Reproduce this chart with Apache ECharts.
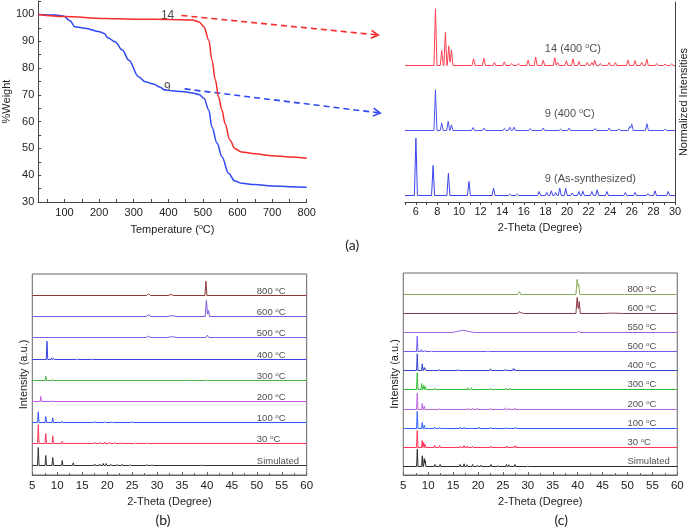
<!DOCTYPE html>
<html><head><meta charset="utf-8">
<script src="https://cdn.jsdelivr.net/npm/echarts@6/dist/echarts.min.js"></script>
<style>html,body{margin:0;padding:0;background:#fff}#c{width:690px;height:528px}</style>
</head><body><div id="c"></div>
<script>
// ================= DATA =================
// (a) TGA curves
const tgaTemp9   = [24, 74, 97, 116, 130, 159, 201, 215, 225, 246, 267, 286, 314, 333, 357, 376, 390, 410, 440, 470, 489, 503, 517, 526, 541, 555, 574, 592, 611, 650, 700, 750, 800];
const tgaWeight9 = [100, 99.8, 99.4, 97.6, 95.4, 94.8, 93.5, 92.9, 91.3, 89.8, 86.7, 82.9, 76.7, 74.9, 74.0, 72.8, 71.8, 71.5, 71.2, 70.7, 70.1, 68.7, 64.3, 58.0, 51.9, 46.9, 40.7, 37.8, 37.0, 36.5, 36.0, 35.7, 35.5];
const tgaTemp14   = [24, 100, 215, 309, 404, 470, 489, 503, 517, 526, 536, 545, 555, 564, 578, 592, 611, 650, 700, 750, 800];
const tgaWeight14 = [100, 99.2, 98.5, 98.2, 98.1, 97.9, 97.2, 95.4, 90.4, 83.0, 75.5, 69.3, 64.3, 59.3, 53.1, 50.0, 48.7, 48.0, 47.3, 46.8, 46.3];
const tgaTempLabels   = [100, 200, 300, 400, 500, 600, 700, 800];
const tgaWeightLabels = [30, 40, 50, 60, 70, 80, 90, 100];
const tgaCurveNames = ['9', '14'];

// (a) XRD patterns: [2-theta, relative intensity, (optional half base width)]
const xrdALabelTicks = [6, 8, 10, 12, 14, 16, 18, 20, 22, 24, 26, 28, 30];
const xrdANames = ['9 (As-synthesized)', '9 (400 °C)', '14 (400 °C)'];
const peaks9Synth = [[6.01,57.3],[7.6,30],[9.02,22.3],[10.92,14],[13.2,7.3],[14.7,1.5],[15.4,1.5],[17.42,4],[18.13,3],[18.55,4.7],[18.95,3],[19.33,7.3],[19.88,7],[20.49,2.5],[21.1,4],[21.47,4.3],[22.3,4],[22.79,5.7],[23.7,4],[25.4,3],[26.3,3],[27.5,2],[28.15,4.7],[29.37,4]];
const peaks9At400 = [[7.82,40.7],[8.4,7.3],[9.0,9.3],[9.3,5.7],[11.3,3],[12.3,2.5],[14.2,2],[14.7,3.3],[15.1,3.3],[16.6,2],[17.8,2.5],[19.4,1.5],[20.2,2.5],[22.6,2],[23.9,2.5],[24.8,1.5],[25.8,4],[26.0,6.3],[27.4,6.7],[29.1,1.5]];
const peaks14At400 = [[7.82,56.7],[8.40,15],[8.74,33],[9.05,19.7],[9.3,15.7],[11.35,6.7],[12.3,7.3],[13.28,3],[14.2,3.7],[14.87,2],[15.5,2],[16.4,5.3],[17.1,8.3],[17.8,5.3],[18.87,7.7],[19.14,3],[19.94,4.7],[20.55,6.7],[21.1,4],[21.87,3],[22.3,3],[22.57,5.3],[23.1,2],[23.9,3],[24.48,3],[25.64,5.3],[26.3,5],[26.93,3],[27.39,6.3],[28.3,2],[29.08,1.5],[29.69,1.5]];

// (b) variable-temperature XRD
const xrdBCTicks = [5, 10, 15, 20, 25, 30, 35, 40, 45, 50, 55, 60];
const bNames = ['Simulated', '30 °C', '100 °C', '200 °C', '300 °C', '400 °C', '500 °C', '600 °C', '800 °C'];
const bSim  = [[6.2,18],[7.7,10],[9.1,8],[11,5],[13.2,2.7],[17.5,1.5],[18.5,1.5],[19.2,2],[19.8,2],[20.7,1.3],[22,1],[23,1.2],[24.6,0.8],[28,1],[29,0.8],[39,0.6]];
const b30   = [[6.2,18.7],[7.7,10],[9.1,7.7],[11,2.3],[17.5,1.2],[18.5,1.3],[19.5,1.5],[20.5,1.3],[21.5,1.2],[23,1],[25.6,0.8],[28,0.8]];
const b100  = [[6.2,10.7],[7.7,6],[9.1,4.7],[11,1.3],[17.5,1],[19.5,0.8],[21,0.8],[25,1]];
const b200  = [[6.7,5],[9.1,0.6]];
const b300  = [[7.7,4.3],[9.1,1],[36,0.7],[39.9,0.7]];
const b400  = [[7.95,18.3],[8.9,1.7],[9.3,1],[14,0.6],[17,0.5]];
const b500  = [[28.3,1.3,0.5],[33,0.8,1],[40.1,2.3,0.3]];
const b600  = [[28.3,1.7,0.5],[33,0.8,1],[39.9,16,0.25],[40.3,6,0.25]];
const b800  = [[28.3,1.7,0.4],[32.8,1,0.6],[39.8,14.3,0.2]];

// (c) variable-temperature XRD
const cNames = ['Simulated', '30 °C', '100 °C', '200 °C', '300 °C', '400 °C', '500 °C', '550 °C', '600 °C', '800 °C'];
const cSim  = [[7.81,17.3],[8.81,10.7],[9.2,8],[9.4,6],[11.36,2],[12.4,2],[16.4,2],[17.2,2.7],[17.8,1.7],[18.9,2],[19.9,1.3],[20.6,1.3],[22.6,2],[24,1],[25.7,2],[26.2,1.7],[27.4,2],[30,0.7]];
const c30   = [[7.8,17],[8.8,7],[9.1,5],[9.4,3],[11.3,2],[12.3,2],[16.5,1.5],[17.2,2],[17.8,1.5],[18.9,1.3],[22.6,1.3],[25.8,1.5],[27.2,1.3],[27.6,1.7]];
const c100  = [[7.8,17],[8.8,6],[9.2,3.3],[11.3,1.3],[12.3,1.3],[16.4,1.3],[17.2,1.3],[20.2,1.3],[22.5,1.3],[25.6,1],[27.5,1.3]];
const c200  = [[7.8,16.3],[8.8,6],[9.2,3.3],[12.3,1],[17.9,1.3],[18.9,1.3],[19.8,1.3],[22.5,1.3],[25.5,1.7],[26.2,1.3],[27.4,1.3]];
const c300  = [[7.8,16.7],[8.7,6],[9.1,4],[9.4,3],[11.3,1.3],[18,1.7],[18.7,1.7],[22.5,1.3],[25.7,1.3],[26.4,1.3]];
const c400  = [[7.8,16.7],[8.8,6.7],[9.2,3],[9.4,2],[12.2,1],[16,1],[22.5,1.7],[25.5,1.3],[27.1,2],[27.4,1.3]];
const c500  = [[7.8,15.3],[8.6,2],[9.3,1],[10.7,0.7],[22,0.7]];
const c550  = [[17,2.3,2.2],[40.2,1,0.4]];
const c600  = [[28.3,2,0.3],[28.8,1,0.3],[39.9,16,0.25],[40.3,12,0.25],[47,0.4,2]];
const c800  = [[28.3,3,0.3],[39.9,15,0.25],[40.2,10,0.25]];

// ================= STYLE / LAYOUT =================
const FONT = '"Liberation Sans", Arial, sans-serif';
const TXT = '#222';
const AXC = '#444';
const tgaColors = {'9': '#2f48f2', '14': '#f52a2a'};
const aColors = ['#3a44ee', '#4a55f2', '#ff4050'];
const bColors = ['#333333', '#ff3355', '#3355ff', '#c455e8', '#44b444', '#3a44e0', '#7f5fe4', '#7a55e0', '#8b3a3a'];
const cColors = ['#2a2a2a', '#ff3355', '#3366ff', '#bb66dd', '#33bb33', '#3344cc', '#6a5cf0', '#9a66e0', '#8b3a4a', '#8aaa55'];

const bPeaks = [bSim, b30, b100, b200, b300, b400, b500, b600, b800];
const cPeaks = [cSim, c30, c100, c200, c300, c400, c500, c550, c600, c800];
const aPeaks = [peaks9Synth, peaks9At400, peaks14At400];

// build a line profile (sum of narrow triangular peaks on a flat baseline)
function profile(peaks, xmin, xmax, defW, base) {
  const set = new Set([xmin, xmax]);
  peaks.forEach(p => { const w = p[2] || defW; [p[0] - w, p[0], p[0] + w].forEach(v => set.add(Math.round(v * 1e4) / 1e4)); });
  const xs = Array.from(set).sort((a, b) => a - b);
  return xs.filter(x => x >= xmin && x <= xmax).map(x => {
    let y = 0;
    peaks.forEach(p => { const w = p[2] || defW; const d = Math.abs(x - p[0]); if (d < w - 1e-6) y += p[1] * (1 - d / w); });
    return [x, base + Math.round(y * 100) / 100];
  });
}
function sup(s) { return s.replace('°', '{s|o}'); }
const range = (a, b, s) => { const r = []; for (let v = a; v <= b + 1e-9; v += s) r.push(v); return r; };

const grids = [
  { left: 32.3, top: 1, width: 274.4, height: 201 },
  { left: 405, top: 2, width: 271.7, height: 200 },
  { left: 32.3, top: 274, width: 274.4, height: 201, show: true, borderColor: '#666', borderWidth: 1 },
  { left: 403.3, top: 273, width: 274, height: 202, show: true, borderColor: '#666', borderWidth: 1 }
];

const nameStyle = { fontFamily: FONT, fontSize: 11, color: TXT, rich: { s: { fontSize: 7, fontFamily: FONT, color: TXT, verticalAlign: 'top', lineHeight: 8, padding: [0, 0, 5, 0] } } };
const lblStyle = { fontFamily: FONT, fontSize: 11, color: TXT };
const lblStyleBC = { fontFamily: FONT, fontSize: 11.5, color: TXT };

const xAxis = [
  { gridIndex: 0, type: 'value', min: 24, max: 800,
    axisLine: { lineStyle: { color: AXC } },
    axisTick: { inside: true, length: 3, customValues: range(50, 800, 50), lineStyle: { color: AXC } },
    axisLabel: Object.assign({ customValues: tgaTempLabels, margin: 5 }, lblStyle),
    splitLine: { show: false },
    name: 'Temperature ({s|o}C)', nameLocation: 'middle', nameGap: 22, nameTextStyle: nameStyle },
  { gridIndex: 1, type: 'value', min: 5, max: 30,
    axisLine: { lineStyle: { color: AXC } },
    axisTick: { inside: false, length: 3, customValues: range(5, 30, 1), lineStyle: { color: AXC } },
    axisLabel: Object.assign({ customValues: xrdALabelTicks, margin: 4 }, lblStyle),
    splitLine: { show: false },
    name: '2-Theta (Degree)', nameLocation: 'middle', nameGap: 20, nameTextStyle: nameStyle },
  { gridIndex: 2, type: 'value', min: 5, max: 60, interval: 5,
    axisLine: { lineStyle: { color: '#666' } },
    axisTick: { inside: true, length: 3, lineStyle: { color: '#666' } },
    minorTick: { show: true, splitNumber: 2, length: 2, lineStyle: { color: '#666' } },
    axisLabel: Object.assign({ margin: 5 }, lblStyleBC),
    splitLine: { show: false },
    name: '2-Theta (Degree)', nameLocation: 'middle', nameGap: 21, nameTextStyle: nameStyle },
  { gridIndex: 3, type: 'value', min: 5, max: 60, interval: 5,
    axisLine: { lineStyle: { color: '#666' } },
    axisTick: { inside: true, length: 3, lineStyle: { color: '#666' } },
    minorTick: { show: true, splitNumber: 2, length: 2, lineStyle: { color: '#666' } },
    axisLabel: Object.assign({ margin: 5 }, lblStyleBC),
    splitLine: { show: false },
    name: '2-Theta (Degree)', nameLocation: 'middle', nameGap: 21, nameTextStyle: nameStyle }
];
const yAxis = [
  { gridIndex: 0, type: 'value', min: 30, max: 105,
    axisLine: { show: true, lineStyle: { color: AXC } },
    axisTick: { show: true, inside: true, length: 3, customValues: range(30, 105, 5), lineStyle: { color: AXC } },
    axisLabel: Object.assign({ customValues: tgaWeightLabels, margin: 4 }, lblStyle),
    splitLine: { show: false },
    name: '%Weight', nameLocation: 'middle', nameGap: 23, nameRotate: 90, nameTextStyle: nameStyle },
  { gridIndex: 1, type: 'value', min: 0, max: 200, position: 'right',
    axisLine: { show: true, lineStyle: { color: AXC } }, axisTick: { show: false }, axisLabel: { show: false },
    splitLine: { show: false },
    name: 'Normalized Intensities', nameLocation: 'middle', nameGap: 3, nameRotate: 90, nameTextStyle: nameStyle },
  { gridIndex: 2, type: 'value', min: 0, max: 201,
    axisLine: { show: false }, axisTick: { show: false }, axisLabel: { show: false }, splitLine: { show: false },
    name: 'Intensity (a.u.)', nameLocation: 'middle', nameGap: 3, nameRotate: 90, nameTextStyle: nameStyle },
  { gridIndex: 3, type: 'value', min: 0, max: 202,
    axisLine: { show: false }, axisTick: { show: false }, axisLabel: { show: false }, splitLine: { show: false },
    name: 'Intensity (a.u.)', nameLocation: 'middle', nameGap: 3, nameRotate: 90, nameTextStyle: nameStyle }
];

const series = [];
// TGA
series.push({ name: '9', type: 'line', xAxisIndex: 0, yAxisIndex: 0, data: tgaTemp9.map((t, i) => [t, tgaWeight9[i]]),
  showSymbol: false, smooth: 0.35, smoothMonotone: 'x', lineStyle: { width: 1.5, color: tgaColors['9'] }, silent: true });
series.push({ name: '14', type: 'line', xAxisIndex: 0, yAxisIndex: 0, data: tgaTemp14.map((t, i) => [t, tgaWeight14[i]]),
  showSymbol: false, smooth: 0.35, smoothMonotone: 'x', lineStyle: { width: 1.5, color: tgaColors['14'] }, silent: true });

function addPanel(peaksList, names, colors, xi, base, step, defW, labelX, labelDy, labelSize) {
  const labelData = [];
  peaksList.forEach((pk, i) => {
    const off = Math.round(base + step * i) + 0.5;
    series.push({ type: 'lines', coordinateSystem: 'cartesian2d', polyline: true, xAxisIndex: xi, yAxisIndex: xi,
      data: [{ coords: profile(pk, 5, xi === 1 ? 30 : 60, defW, off) }],
      lineStyle: { width: 1, color: colors[i], opacity: 1 }, silent: true, z: 2 });
    labelData.push({ value: [labelX, off + labelDy], name: names[i] });
  });
  series.push({ type: 'scatter', xAxisIndex: xi, yAxisIndex: xi, symbolSize: 0, data: labelData, silent: true, z: 5,
    label: { show: true, position: 'right', distance: 0, formatter: p => sup(p.name),
      fontFamily: FONT, fontSize: labelSize, color: TXT,
      rich: { s: { fontSize: labelSize * 0.65, fontFamily: FONT, color: TXT, verticalAlign: 'top', lineHeight: 7, padding: [0, 0, 5, 0] } } } });
}
addPanel(aPeaks, xrdANames, aColors, 1, 5.7, 65, 0.14, 17.95, 17, 11);
addPanel(bPeaks, bNames, bColors, 2, 9.3, 21.2, 0.15, 50, 4.5, 9.5);
addPanel(cPeaks, cNames, cColors, 3, 8.0, 19.15, 0.14, 50, 5, 9.5);

// curve tags on TGA
series.push({ type: 'scatter', xAxisIndex: 0, yAxisIndex: 0, symbolSize: 0, silent: true,
  data: [{ value: [420, 99.6], name: '14' }, { value: [410, 72.6], name: '9' }],
  label: { show: true, position: 'left', distance: 1, formatter: p => p.name, fontFamily: FONT, fontSize: 12, color: TXT } });

const chart = echarts.init(document.getElementById('c'), null, { renderer: 'canvas' });
chart.setOption({
  animation: false, backgroundColor: '#fff',
  grid: grids, xAxis: xAxis, yAxis: yAxis, series: series
});

// annotations: panel tags and dashed arrows linking TGA to XRD
function arrow(p0, p1, color) {
  const dx = p1[0] - p0[0], dy = p1[1] - p0[1], L = Math.hypot(dx, dy);
  const ux = dx / L, uy = dy / L, nx = -uy, ny = ux;
  const back = 7, half = 4;
  return [
    { type: 'line', shape: { x1: p0[0], y1: p0[1], x2: p1[0] - ux * 2, y2: p1[1] - uy * 2 },
      style: { stroke: color, lineWidth: 1.6, lineDash: [6, 4] }, silent: true },
    { type: 'polyline', shape: { points: [[p1[0] - ux * back + nx * half, p1[1] - uy * back + ny * half], p1, [p1[0] - ux * back - nx * half, p1[1] - uy * back - ny * half]] },
      style: { stroke: color, lineWidth: 1.6, fill: null }, silent: true }
  ];
}
const tgaSeries = 0;
const r0 = chart.convertToPixel({ seriesIndex: tgaSeries }, [438, 99.6]);
const r1 = chart.convertToPixel({ xAxisIndex: 1, yAxisIndex: 1 }, [2.52, 167]);
const b0 = chart.convertToPixel({ seriesIndex: tgaSeries }, [447, 72.2]);
const b1 = chart.convertToPixel({ xAxisIndex: 1, yAxisIndex: 1 }, [2.7, 89]);
const tagStyle = { fontFamily: 'Lato, "Open Sans", sans-serif', fontSize: 14, fill: '#222' };
const tagA = chart.convertToPixel({ xAxisIndex: 1, yAxisIndex: 1 }, [0.12, -43]);
const tagB = chart.convertToPixel({ xAxisIndex: 2, yAxisIndex: 2 }, [31.2, -45.5]);
const tagC = chart.convertToPixel({ xAxisIndex: 3, yAxisIndex: 3 }, [36.7, -45.5]);
chart.setOption({ graphic: [].concat(
  arrow(r0, r1, '#f52a2a'), arrow(b0, b1, '#2f48f2'),
  [ { type: 'text', x: tagA[0], y: tagA[1], style: Object.assign({ text: '(a)', align: 'center', verticalAlign: 'middle' }, tagStyle), silent: true },
    { type: 'text', x: tagB[0], y: tagB[1], style: Object.assign({ text: '(b)', align: 'center', verticalAlign: 'middle' }, tagStyle), silent: true },
    { type: 'text', x: tagC[0], y: tagC[1], style: Object.assign({ text: '(c)', align: 'center', verticalAlign: 'middle' }, tagStyle), silent: true } ]
) });
</script></body></html>
